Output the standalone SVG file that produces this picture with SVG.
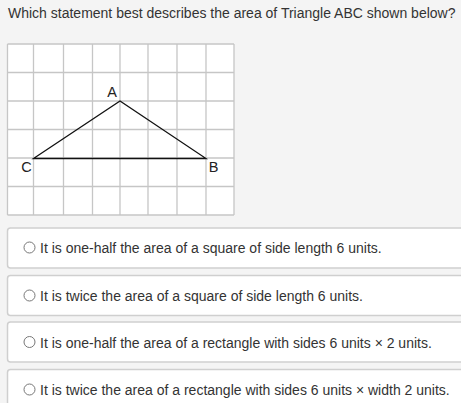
<svg xmlns="http://www.w3.org/2000/svg" width="461" height="403" viewBox="0 0 461 403">
<style>
.t{font-family:"Liberation Sans",Arial,sans-serif;font-size:14px;fill:#333}
.g{stroke:#c6c6c6;stroke-width:1.3;fill:none}
.lbl{font-family:"Liberation Sans",Arial,sans-serif;font-size:14.5px;fill:#222;text-anchor:middle}
.box{fill:#fff;stroke:#cfcfcf;stroke-width:1.5}
.rad{fill:#fff;stroke:#777;stroke-width:1}
</style>
<rect width="461" height="403" fill="#f4f4f4"/>
<text class="t" x="8" y="18">Which statement best describes the area of Triangle ABC shown below?</text>
<g id="grid">
<rect x="7.5" y="44" width="226.5" height="171" fill="#fff"/>
<path class="g" d="M7.5 44V215M33.5 44V215M63.5 44V215M92.5 44V215M120 44V215M148 44V215M177 44V215M206 44V215M234 44V215M7.5 44H234M7.5 72.5H234M7.5 101H234M7.5 129.5H234M7.5 158H234M7.5 186.5H234M7.5 215H234"/>
</g>
<g id="triangle">
<polygon points="33.5,158.5 120,101 206,158.5" fill="none" stroke="#111" stroke-width="1.3"/>
<text class="lbl" x="112" y="97">A</text>
<text class="lbl" x="26.5" y="172">C</text>
<text class="lbl" x="213.5" y="172">B</text>
</g>
<g id="opt1">
<rect class="box" x="7.5" y="228" width="460" height="40" rx="3"/>
<circle class="rad" cx="29.5" cy="247.5" r="5.5"/>
<text class="t" x="40" y="253">It is one-half the area of a square of side length 6 units.</text>
</g>
<g id="opt2">
<rect class="box" x="7.5" y="275.5" width="460" height="40" rx="3"/>
<circle class="rad" cx="29.5" cy="295.5" r="5.5"/>
<text class="t" x="40" y="301">It is twice the area of a square of side length 6 units.</text>
</g>
<g id="opt3">
<rect class="box" x="7.5" y="322" width="460" height="40" rx="3"/>
<circle class="rad" cx="29.5" cy="342" r="5.5"/>
<text class="t" x="40" y="347.5">It is one-half the area of a rectangle with sides 6 units × 2 units.</text>
</g>
<g id="opt4">
<rect class="box" x="7.5" y="369.5" width="460" height="40" rx="3"/>
<circle class="rad" cx="29.5" cy="389.5" r="5.5"/>
<text class="t" x="40" y="395">It is twice the area of a rectangle with sides 6 units × width 2 units.</text>
</g>
</svg>
